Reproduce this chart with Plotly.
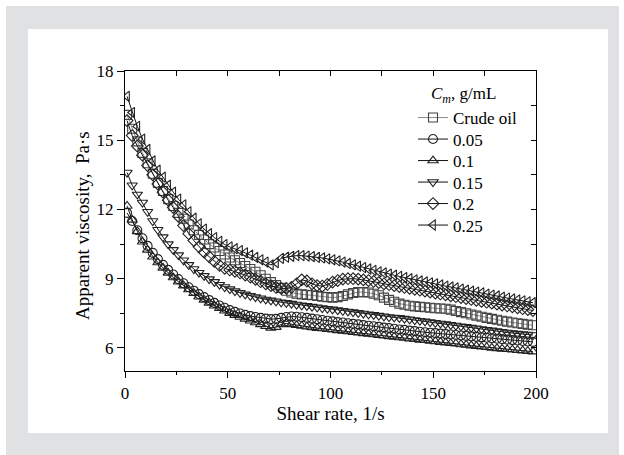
import plotly.graph_objects as go

# ---------------- data ----------------
shear_rate = [1, 3.5, 6, 8.5, 11, 13.5, 16, 18.5, 21, 23.5, 26, 28.5, 31, 33.5, 36, 38.5, 41, 43.5, 46, 48.5,
              51, 53.5, 56, 58.5, 61, 63.5, 66, 68.5, 71, 73.5, 76, 78.5, 81, 83.5, 86, 88.5, 91, 93.5, 96, 98.5,
              101, 103.5, 106, 108.5, 111, 113.5, 116, 118.5, 121, 123.5, 126, 128.5, 131, 133.5, 136, 138.5, 141, 143.5, 146, 148.5,
              151, 153.5, 156, 158.5, 161, 163.5, 166, 168.5, 171, 173.5, 176, 178.5, 181, 183.5, 186, 188.5, 191, 193.5, 196, 198.5]

crude_oil = [16.1, 15.5, 14.95, 14.45, 14.0, 13.55, 13.15, 12.8, 12.45, 12.15, 11.85, 11.6, 11.35, 11.1, 10.9, 10.7, 10.5, 10.35, 10.2, 10.05,
             9.92, 9.8, 9.68, 9.55, 9.42, 9.3, 9.15, 9.0, 8.85, 8.72, 8.6, 8.48, 8.4, 8.35, 8.32, 8.3, 8.28, 8.25, 8.22, 8.2,
             8.18, 8.2, 8.25, 8.32, 8.38, 8.42, 8.42, 8.4, 8.35, 8.28, 8.18, 8.08, 8.0, 7.92, 7.87, 7.83, 7.8, 7.78, 7.76, 7.74,
             7.72, 7.71, 7.7, 7.66, 7.6, 7.55, 7.5, 7.45, 7.4, 7.35, 7.3, 7.26, 7.22, 7.18, 7.14, 7.1, 7.07, 7.04, 7.01, 6.98]

c_005 = [11.85, 11.5, 11.1, 10.75, 10.42, 10.12, 9.85, 9.6, 9.38, 9.18, 8.98, 8.8, 8.63, 8.48, 8.33, 8.2, 8.07, 7.95, 7.84, 7.74,
         7.64, 7.56, 7.49, 7.43, 7.38, 7.34, 7.3, 7.27, 7.25, 7.26, 7.3, 7.34, 7.36, 7.35, 7.33, 7.3, 7.27, 7.24, 7.21, 7.18,
         7.15, 7.12, 7.1, 7.07, 7.04, 7.02, 6.99, 6.96, 6.94, 6.91, 6.88, 6.86, 6.83, 6.8, 6.78, 6.75, 6.73, 6.7, 6.68, 6.66,
         6.64, 6.62, 6.6, 6.58, 6.56, 6.54, 6.52, 6.5, 6.48, 6.46, 6.44, 6.42, 6.4, 6.38, 6.36, 6.34, 6.32, 6.3, 6.28, 6.26]

c_01 = [12.15, 11.55, 11.05, 10.6, 10.25, 9.95, 9.7, 9.47, 9.25, 9.05, 8.87, 8.7, 8.53, 8.37, 8.22, 8.08, 7.95, 7.83, 7.72, 7.61,
        7.51, 7.42, 7.34, 7.26, 7.18, 7.1, 7.02, 6.94, 6.87, 6.9, 7.02, 7.06, 7.02, 6.98, 6.95, 6.92, 6.89, 6.86, 6.84, 6.81,
        6.79, 6.76, 6.74, 6.71, 6.68, 6.66, 6.63, 6.61, 6.58, 6.55, 6.53, 6.5, 6.48, 6.45, 6.43, 6.4, 6.38, 6.35, 6.33, 6.3,
        6.28, 6.25, 6.23, 6.2, 6.18, 6.15, 6.13, 6.1, 6.08, 6.05, 6.03, 6.0, 5.98, 5.96, 5.94, 5.92, 5.9, 5.88, 5.86, 5.84]

c_015 = [13.6, 13.05, 12.65, 12.3, 11.9, 11.5, 11.12, 10.8, 10.5, 10.25, 10.02, 9.8, 9.6, 9.42, 9.26, 9.12, 8.98, 8.86, 8.74, 8.64,
         8.55, 8.46, 8.39, 8.32, 8.26, 8.2, 8.15, 8.1, 8.06, 8.02, 7.98, 7.95, 7.92, 7.88, 7.85, 7.82, 7.79, 7.76, 7.73, 7.7,
         7.67, 7.64, 7.61, 7.58, 7.55, 7.52, 7.49, 7.46, 7.43, 7.4, 7.37, 7.34, 7.32, 7.3, 7.27, 7.24, 7.21, 7.18, 7.15, 7.12,
         7.09, 7.06, 7.03, 7.0, 6.97, 6.94, 6.91, 6.88, 6.85, 6.82, 6.79, 6.76, 6.73, 6.7, 6.67, 6.64, 6.62, 6.6, 6.58, 6.56]

c_02 = [15.85, 15.2, 14.75, 14.35, 13.9, 13.5, 13.1, 12.75, 12.4, 12.08, 11.7, 11.3, 10.95, 10.65, 10.38, 10.15, 9.95, 9.75, 9.58, 9.45,
        9.38, 9.32, 9.25, 9.16, 9.07, 8.97, 8.87, 8.78, 8.7, 8.62, 8.58, 8.58, 8.62, 8.78, 8.95, 8.9, 8.78, 8.7, 8.68, 8.75,
        8.85, 8.92, 8.98, 9.0, 9.0, 8.98, 8.95, 8.92, 8.88, 8.83, 8.78, 8.74, 8.7, 8.66, 8.62, 8.58, 8.54, 8.5, 8.46, 8.42,
        8.38, 8.34, 8.3, 8.26, 8.22, 8.18, 8.14, 8.1, 8.06, 8.02, 7.98, 7.94, 7.9, 7.86, 7.82, 7.78, 7.74, 7.7, 7.66, 7.62]

c_025 = [16.9, 16.2, 15.6, 15.05, 14.6, 14.1, 13.7, 13.4, 13.05, 12.75, 12.45, 12.2, 11.9, 11.62, 11.38, 11.15, 10.95, 10.78, 10.62, 10.48,
         10.38, 10.3, 10.22, 10.12, 10.02, 9.92, 9.82, 9.72, 9.6, 9.7, 9.88, 9.93, 9.97, 10.0, 10.0, 9.98, 9.96, 9.92, 9.9, 9.86,
         9.82, 9.77, 9.72, 9.66, 9.6, 9.54, 9.48, 9.42, 9.36, 9.3, 9.25, 9.2, 9.15, 9.1, 9.05, 9.0, 8.95, 8.9, 8.86, 8.82,
         8.78, 8.73, 8.68, 8.64, 8.6, 8.55, 8.5, 8.46, 8.42, 8.38, 8.33, 8.29, 8.25, 8.2, 8.16, 8.12, 8.08, 8.04, 8.0, 7.96]

series_names = ["Crude oil", "0.05", "0.1", "0.15", "0.2", "0.25"]
series_values = [crude_oil, c_005, c_01, c_015, c_02, c_025]
series_symbols = ["square-open", "circle-open", "triangle-up-open", "triangle-down-open", "diamond-open", "triangle-left-open"]
line_colors = ["#8a8a8a", "#111111", "#111111", "#111111", "#111111", "#111111"]
marker_colors = ["#444444", "#222222", "#222222", "#222222", "#222222", "#222222"]

x_ticks = [0, 50, 100, 150, 200]
y_ticks = [6, 9, 12, 15, 18]
y_minor = [7.5, 10.5, 13.5, 16.5]
legend_title = "<i>C</i><sub><i>m</i></sub><i>,</i> g/mL"
x_title = "Shear rate, 1/s"
y_title = "Apparent viscosity,\u2002Pa·s"

# ---------------- layout geometry ----------------
W, H = 624, 455
L, R, T, B = 125, 536, 71, 371   # plot area in pixels


def px(xp):
    return (xp - L) / (R - L)


def py(yp):
    return (B - yp) / (B - T)


FONT = "Liberation Serif, Times New Roman, serif"
LEG_X = 413
LEG_Y0, LEG_DY = 118, 21.5

fig = go.Figure()
legend_layouts = {}
for i, (name, vals, sym, lc, mc) in enumerate(zip(series_names, series_values, series_symbols, line_colors, marker_colors)):
    key = "legend" if i == 0 else f"legend{i + 1}"
    fig.add_trace(go.Scatter(
        x=shear_rate, y=vals, name=name, mode="lines+markers", legend=key,
        line=dict(color=lc, width=1),
        marker=dict(symbol=sym, size=9, color=mc, line=dict(width=1.1, color=mc)),
    ))
    legend_layouts[key] = dict(
        x=px(LEG_X), y=py(LEG_Y0 + i * LEG_DY), xanchor="left", yanchor="middle",
        bgcolor="rgba(0,0,0,0)", borderwidth=0, font=dict(size=17, color="black"), itemwidth=30,
    )

# dummy trace for mirrored (inside-tick) axes
fig.add_trace(go.Scatter(x=[None], y=[None], xaxis="x2", yaxis="y2", showlegend=False, hoverinfo="skip"))

axis_common = dict(showgrid=False, zeroline=False, showline=True, linecolor="black", linewidth=1.3)

fig.update_layout(
    width=W, height=H,
    margin=dict(l=L, r=W - R, t=T, b=H - B, pad=0),
    paper_bgcolor="white", plot_bgcolor="rgba(0,0,0,0)",
    font=dict(family=FONT, size=17, color="black"),
    xaxis=dict(**axis_common, range=[0, 200], tickmode="array", tickvals=x_ticks,
               ticks="outside", ticklen=6, tickwidth=1.2, tickcolor="black",
               minor=dict(dtick=25, ticks="outside", ticklen=3, tickwidth=1, tickcolor="black"),
               title=dict(text=x_title, standoff=2, font=dict(size=19)),
               tickfont=dict(size=17)),
    yaxis=dict(**axis_common, range=[5, 18], tickmode="array", tickvals=y_ticks,
               ticks="outside", ticklen=7, tickwidth=1.2, tickcolor="black",
               minor=dict(tickvals=y_minor, ticks="outside", ticklen=4, tickwidth=1, tickcolor="black"),
               tickfont=dict(size=17)),
    xaxis2=dict(**axis_common, overlaying="x", side="top", range=[0, 200], tickmode="array", tickvals=x_ticks,
                ticks="inside", ticklen=5, tickwidth=1, tickcolor="black", showticklabels=False,
                minor=dict(dtick=25, ticks="inside", ticklen=5, tickwidth=1, tickcolor="black")),
    yaxis2=dict(**axis_common, overlaying="y", side="right", range=[5, 18], tickmode="array", tickvals=y_ticks,
                ticks="inside", ticklen=5, tickwidth=1, tickcolor="black", showticklabels=False,
                minor=dict(tickvals=y_minor, ticks="inside", ticklen=5, tickwidth=1, tickcolor="black")),
    annotations=[
        dict(text=legend_title, xref="paper", yref="paper", x=px(429), y=py(95),
             xanchor="left", yanchor="middle", showarrow=False, font=dict(size=17)),
        dict(text=y_title, xref="paper", yref="paper", x=px(83), y=py(226), textangle=-90,
             xanchor="center", yanchor="middle", showarrow=False, font=dict(size=19)),
    ],
    shapes=[
        dict(type="rect", xref="paper", yref="paper", x0=px(6), x1=px(619), y0=py(460), y1=py(6),
             fillcolor="#e0e1e3", line=dict(width=0), layer="below"),
        dict(type="rect", xref="paper", yref="paper", x0=px(28), x1=px(608), y0=py(433), y1=py(29),
             fillcolor="white", line=dict(width=0), layer="below"),
    ],
    showlegend=True,
)
fig.update_layout(**legend_layouts)

fig.write_html("out.html")
